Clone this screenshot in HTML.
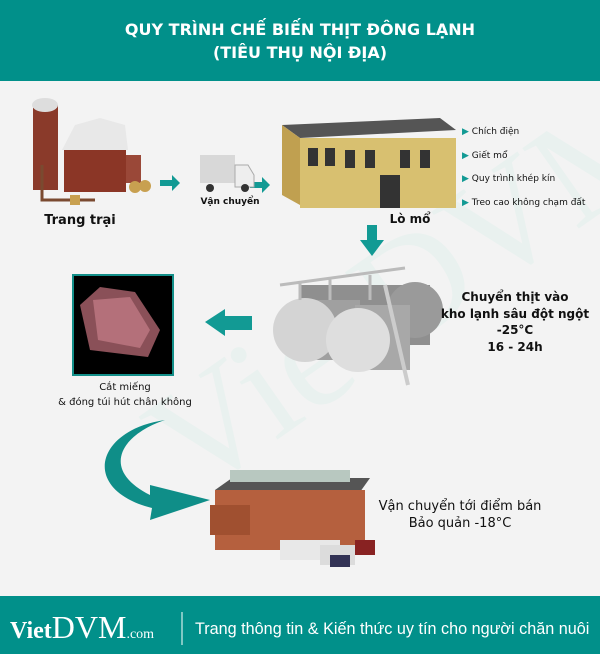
<!DOCTYPE html>
<html><head><meta charset="utf-8"><style>
body{margin:0;width:600px;height:654px;overflow:hidden;background:#f3f3f3;font-family:"DejaVu Sans","Liberation Sans",sans-serif;}
.t{position:absolute;color:#111;font-weight:bold;text-align:center;white-space:nowrap}
</style></head><body>
<div style="position:absolute;left:0;top:0;width:600px;height:81px;background:#01908a"></div>
<div class="t" style="left:0;top:18px;width:600px;color:#fff;font-size:16px;line-height:23px">QUY TRÌNH CHẾ BIẾN THỊT ĐÔNG LẠNH<br>(TIÊU THỤ NỘI ĐỊA)</div>

<svg style="position:absolute;left:0;top:0" width="600" height="654">
<!-- watermark -->
<text x="90" y="430" font-family="Liberation Serif" font-size="150" fill="#e9f1ef" transform="rotate(-35 250 300)">VietDVM</text>
<!-- farm -->
<rect x="33" y="105" width="25" height="85" fill="#8a3a2a"/>
<ellipse cx="45" cy="105" rx="13" ry="7" fill="#ddd"/>
<polygon points="62,150 75,125 100,118 125,125 128,150" fill="#e8e8e8"/>
<rect x="64" y="150" width="62" height="42" fill="#8b3626"/>
<rect x="126" y="155" width="15" height="28" fill="#9a4838"/>
<path d="M42 165 L42 200 L95 200" stroke="#7a4a30" stroke-width="3" fill="none"/>
<circle cx="135" cy="187" r="6" fill="#c8a050"/><circle cx="145" cy="186" r="6" fill="#c8a050"/><rect x="70" y="195" width="10" height="10" fill="#c8a050"/>
<!-- small arrows -->
<polygon points="160,180 172,180 172,175 180,183 172,191 172,186 160,186" fill="#129a94"/>
<polygon points="250,182 262,182 262,177 270,185 262,193 262,188 250,188" fill="#129a94"/>
<!-- truck -->
<rect x="200" y="155" width="35" height="28" fill="#d8d8d8"/>
<polygon points="235,165 248,165 254,175 254,187 235,187" fill="#eee" stroke="#aaa"/>
<circle cx="210" cy="188" r="4" fill="#333"/><circle cx="245" cy="188" r="4" fill="#333"/>
<!-- slaughterhouse -->
<polygon points="282,125 440,118 456,130 300,138" fill="#555"/>
<polygon points="282,125 300,138 300,205 282,195" fill="#c0a050"/>
<rect x="300" y="138" width="156" height="70" fill="#d8c070"/>
<g fill="#333"><rect x="308" y="148" width="10" height="18"/><rect x="325" y="148" width="10" height="18"/><rect x="345" y="150" width="10" height="18"/><rect x="365" y="150" width="10" height="18"/><rect x="400" y="150" width="10" height="18"/><rect x="420" y="150" width="10" height="18"/><rect x="380" y="175" width="20" height="33"/></g>
<!-- down arrow -->
<polygon points="367,225 377,225 377,240 384,240 372,256 360,240 367,240" fill="#129a94"/>
<!-- tanks -->
<rect x="300" y="285" width="130" height="60" fill="#8f8f8f"/>
<circle cx="415" cy="310" r="28" fill="#9a9a9a"/>
<rect x="300" y="300" width="60" height="60" fill="#a0a0a0"/>
<circle cx="305" cy="330" r="32" fill="#d4d4d4"/>
<rect x="355" y="305" width="55" height="65" fill="#a8a8a8"/>
<circle cx="358" cy="340" r="32" fill="#dedede"/>
<path d="M280 285 L405 268 M300 282 L300 300 M330 278 L330 300 M370 275 L370 300" stroke="#bbb" stroke-width="3"/>
<path d="M385 285 L408 385" stroke="#ccc" stroke-width="4"/>
<!-- left arrow -->
<polygon points="205,322 225,309 225,316 252,316 252,330 225,330 225,336" fill="#129a94"/>
<!-- meat -->
<rect x="73" y="275" width="100" height="100" fill="#000" stroke="#138f89" stroke-width="2"/>
<path d="M80 305 L100 287 L135 292 L160 330 L148 357 L90 350 Z" fill="#8a5058"/>
<path d="M93 300 L130 297 L150 330 L140 348 L98 340 Z" fill="#b4707a"/>
<!-- curved arrow -->
<path d="M165 420 C120 435 100 470 150 495 L150 485 L210 500 L150 520 L152 508 C80 490 95 430 165 420 Z" fill="#0f8e88"/>
<!-- warehouse -->
<polygon points="215,490 232,478 370,478 360,492" fill="#555"/>
<rect x="230" y="470" width="120" height="12" fill="#b8c8c0"/>
<rect x="215" y="490" width="150" height="60" fill="#b5603e"/>
<rect x="210" y="505" width="40" height="30" fill="#a05030"/>
<rect x="280" y="540" width="60" height="20" fill="#e8e8e8"/>
<rect x="320" y="545" width="35" height="20" fill="#dcdcdc"/>
<rect x="330" y="555" width="20" height="12" fill="#335"/>
<rect x="355" y="540" width="20" height="15" fill="#822"/>
<!-- footer -->
<rect x="0" y="596" width="600" height="58" fill="#01908a"/>
<line x1="182" y1="612" x2="182" y2="645" stroke="#fff" stroke-width="1"/>
</svg>

<div class="t" style="left:30px;top:213px;width:100px;font-size:13px">Trang trại</div>
<div class="t" style="left:195px;top:197px;width:70px;font-size:9px">Vận chuyển</div>
<div class="t" style="left:385px;top:212px;width:50px;font-size:12px">Lò mổ</div>
<div style="position:absolute;left:462px;top:121px;font-size:9px;line-height:23.5px;color:#111">
<div><span style="color:#129a94">▶</span> Chích điện</div><div><span style="color:#129a94">▶</span> Giết mổ</div><div><span style="color:#129a94">▶</span> Quy trình khép kín</div><div><span style="color:#129a94">▶</span> Treo cao không chạm đất</div></div>
<div class="t" style="left:440px;top:289px;width:150px;font-size:12px;line-height:16.5px">Chuyển thịt vào<br>kho lạnh sâu đột ngột<br>-25°C<br>16 - 24h</div>
<div class="t" style="left:50px;top:380px;width:150px;font-size:10px;font-weight:normal;line-height:15px">Cắt miếng<br>&amp; đóng túi hút chân không</div>
<div class="t" style="left:370px;top:498px;width:180px;font-size:13px;font-weight:normal;line-height:17px">Vận chuyển tới điểm bán<br>Bảo quản -18°C</div>
<div style="position:absolute;left:10px;top:609px;color:#fff;font-family:'Liberation Serif',serif;white-space:nowrap"><span style="font-size:24px;font-weight:bold">Viet</span><span style="font-size:32px">DVM</span><span style="font-size:14px">.com</span></div>
<div style="position:absolute;left:195px;top:620px;color:#fff;font-size:16.2px;font-family:'Liberation Sans',sans-serif;white-space:nowrap">Trang thông tin &amp; Kiến thức uy tín cho người chăn nuôi</div>
</body></html>
